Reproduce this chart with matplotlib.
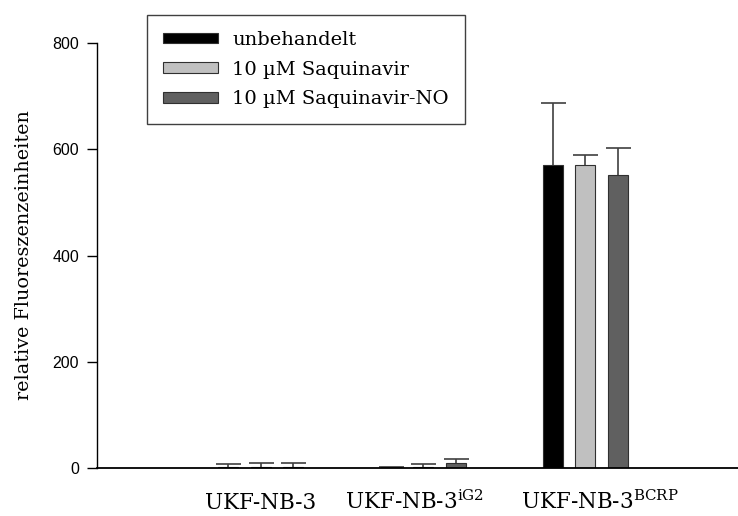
import matplotlib
matplotlib.use("Agg")
import matplotlib.pyplot as plt
import matplotlib.transforms as mtransforms
import numpy as np

# data
groups = ["UKF-NB-3", r"UKF-NB-3$^{\mathrm{iG2}}$", r"UKF-NB-3$^{\mathrm{BCRP}}$"]
series = ["unbehandelt", "10 µM Saquinavir", "10 µM Saquinavir-NO"]
unbehandelt = [2, 1, 570]
saquinavir = [1, 2, 571]
saquinavir_no = [1, 9, 551]
err_unbehandelt = [6, 1, 117]
err_saquinavir = [9, 5, 18]
err_saquinavir_no = [9, 8, 51]
colors = ["#000000", "#c0c0c0", "#606060"]

plt.rcParams["mathtext.fontset"] = "dejavuserif"

fig = plt.figure(figsize=(7.38, 5.16), dpi=100)
ax = fig.add_axes([97 / 738, 1 - 468 / 516, 641 / 738, 425 / 516])

x = np.arange(len(groups))
width = 0.123
offsets = [-0.2, 0.0, 0.2]
values = [unbehandelt, saquinavir, saquinavir_no]
errors = [err_unbehandelt, err_saquinavir, err_saquinavir_no]

for i in range(3):
    ax.bar(x + offsets[i], values[i], width, color=colors[i], edgecolor="#303030",
           linewidth=0.8, label=series[i], zorder=2)
    eb = ax.errorbar(x + offsets[i], values[i], yerr=[np.zeros(3), errors[i]], fmt="none",
                     ecolor="#404040", elinewidth=1.2, capsize=9, capthick=1.2, zorder=1)
    # only the upper cap is shown
    eb[1][0].set_visible(False)

ax.set_xlim(-1.01, 2.94)
ax.set_ylim(0, 800)
ax.set_yticks([0, 200, 400, 600, 800])
for lab in ax.get_yticklabels():
    lab.set_fontfamily("Liberation Sans")
    lab.set_fontsize(11.5)
ax.tick_params(axis="y", direction="out", length=7, width=1, pad=6)

# group labels (not exactly centred under the bars in the original)
ax.set_xticks([])
trans = mtransforms.blended_transform_factory(ax.transData, ax.transAxes)
label_pos = [0, 0.945, 2.086]
for pos, g in zip(label_pos, groups):
    ax.text(pos, -41 / 425, g, transform=trans, ha="center", va="baseline",
            fontfamily="DejaVu Serif", fontsize=15.5)

ax.spines["top"].set_visible(False)
ax.spines["right"].set_visible(False)
ax.spines["left"].set_linewidth(1)
ax.spines["bottom"].set_linewidth(1.3)

ax.set_ylabel("relative Fluoreszenzeinheiten", fontfamily="DejaVu Serif", fontsize=13.8,
              labelpad=14)

leg = ax.legend(loc="upper left", bbox_to_anchor=(147 / 738, 1 - 15 / 516),
                bbox_transform=fig.transFigure, borderaxespad=0, fancybox=False,
                edgecolor="#404040", framealpha=1, handlelength=2.85, handleheight=0.46,
                prop={"family": "DejaVu Serif", "size": 14}, borderpad=0.82,
                labelspacing=0.6, handletextpad=0.72)
leg.get_frame().set_linewidth(1)

fig.savefig("out.png", dpi=100)
